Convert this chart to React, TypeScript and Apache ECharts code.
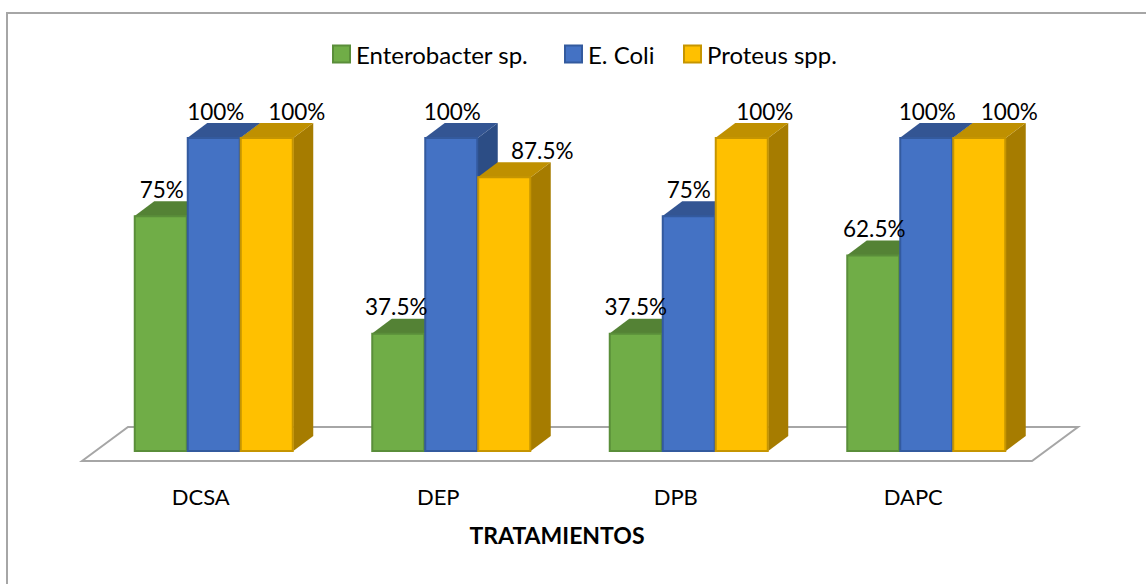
import React, { useEffect, useRef } from "react";
import * as echarts from "echarts";

const categories = ["DCSA", "DEP", "DPB", "DAPC"];
const seriesNames = ["Enterobacter sp.", "E. Coli", "Proteus spp."];
const enterobacter = [75, 37.5, 37.5, 62.5];
const eColi = [100, 100, 75, 100];
const proteus = [100, 87.5, 100, 100];
const seriesValues = [enterobacter, eColi, proteus];

const FONT = "Lato, Carlito, sans-serif";
const front = ["#70ad47", "#4472c4", "#ffc000"];
const edge = ["#5a8e3a", "#335a9e", "#c69500"];
const topFace = ["#548235", "#335593", "#bf9000"];
const sideFace = ["#4a7330", "#2c4d85", "#a67c00"];
const BAR_W = 53;
const DX = 20;
const DY = 15;
const GROUP_OFFSET = -66.5;
const legendLefts = [327, 559, 678];
// horizontal nudges of the value labels, per series and category
const labelNudge = [
  [1, -2, 0, 1],
  [2, 1, 0, 1],
  [30, 38, 23, 30],
];

const renderer = (s: number) => (params: any, api: any) => {
  const cat = api.value(0);
  const val = api.value(1);
  const [cx, yTop] = api.coord([cat, val]);
  const [, y0] = api.coord([cat, 0]);
  const x = cx + GROUP_OFFSET + s * BAR_W;
  const x1 = x + BAR_W;
  return {
    type: "group",
    children: [
      {
        type: "polygon",
        shape: { points: [[x1, yTop], [x1 + DX, yTop - DY], [x1 + DX, y0 - DY], [x1, y0]] },
        style: { fill: sideFace[s] },
      },
      {
        type: "polygon",
        shape: { points: [[x, yTop], [x + DX, yTop - DY], [x1 + DX, yTop - DY], [x1, yTop]] },
        style: { fill: topFace[s] },
      },
      {
        type: "rect",
        shape: { x: x + 0.5, y: yTop, width: BAR_W - 1, height: y0 - yTop },
        style: { fill: front[s], stroke: edge[s], lineWidth: 2 },
      },
      {
        type: "text",
        z2: 100,
        style: {
          text: `${val}%`,
          x: x + BAR_W / 2 + labelNudge[s][cat],
          y: yTop - 27,
          align: "center",
          verticalAlign: "middle",
          fill: "#000",
          font: `22.5px ${FONT}`,
        },
      },
    ],
  };
};

export default function App() {
  const ref = useRef<HTMLDivElement>(null);
  useEffect(() => {
    const chart = echarts.init(ref.current!, undefined, { renderer: "svg" });
    chart.setOption({
      animation: false,
      backgroundColor: "#fff",
      grid: { left: 82, right: 114, top: 138, bottom: 133 },
      legend: seriesNames.map((name, i) => ({
        left: legendLefts[i],
        top: 37,
        icon: "rect",
        itemWidth: 17,
        itemHeight: 17,
        textStyle: { fontFamily: FONT, fontSize: 24, color: "#000", padding: [0, 0, 0, 1] },
        data: [name],
      })),
      xAxis: {
        type: "category",
        data: categories,
        axisLine: { show: false },
        axisTick: { show: false },
        axisLabel: { margin: 34, fontFamily: FONT, fontSize: 22, color: "#000" },
        name: "TRATAMIENTOS",
        nameLocation: "middle",
        nameGap: 72,
        nameTextStyle: { fontFamily: FONT, fontSize: 23, fontWeight: "bold", color: "#000" },
      },
      yAxis: { type: "value", min: 0, max: 100, show: false },
      graphic: [
        {
          type: "polyline",
          z: 0,
          shape: { points: [[7, 584], [7, 13], [1146, 13]] },
          style: { fill: "none", stroke: "#a6a6a6", lineWidth: 2 },
        },
        {
          type: "polygon",
          z: 0,
          shape: { points: [[82, 461], [128, 427], [1078, 427], [1032, 461]] },
          style: { fill: "#fff", stroke: "#a6a6a6", lineWidth: 2 },
        },
      ],
      series: seriesNames.map((name, s) => ({
        name,
        type: "custom",
        coordinateSystem: "cartesian2d",
        renderItem: renderer(s),
        encode: { x: 0, y: 1 },
        itemStyle: { color: front[s], borderColor: edge[s], borderWidth: 2 },
        data: seriesValues[s].map((v, i) => [i, v]),
      })),
    });
    return () => chart.dispose();
  }, []);
  return (
    <div
      ref={ref}
      style={{ position: "absolute", left: 0, top: 0, width: 1146, height: 584 }}
    />
  );
}
